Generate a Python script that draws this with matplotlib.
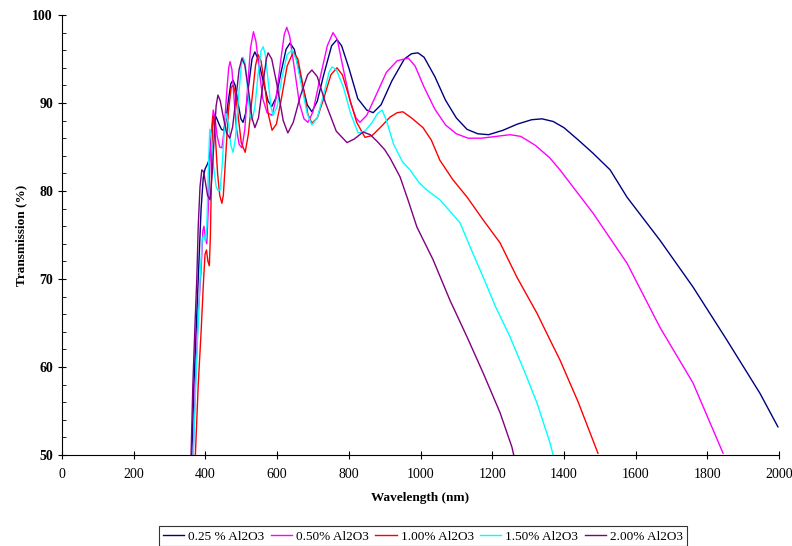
import matplotlib
matplotlib.use("Agg")
import matplotlib.pyplot as plt
from matplotlib.ticker import MultipleLocator

plt.rcParams["font.family"] = ["Liberation Serif", "DejaVu Serif"]

labels = ["0.25 % Al2O3", "0.50% Al2O3", "1.00% Al2O3", "1.50% Al2O3", "2.00% Al2O3"]
colors = ["#000080", "#FF00FF", "#FF0000", "#00FFFF", "#800080"]

# 0.25 % Al2O3
wl_025 = [362, 368, 378, 388, 394, 399, 405, 410, 416, 421, 425, 430, 438, 445, 450, 456, 464,
          471, 477, 483, 491, 499, 505, 512, 520, 530, 538, 547, 560, 575, 585, 597, 611, 625,
          636, 648, 665, 684, 697, 712, 730, 752, 767, 780, 800, 825, 850, 868, 890, 920, 955,
          975, 993, 1010, 1040, 1070, 1100, 1130, 1160, 1190, 1230, 1270, 1310, 1339, 1370,
          1400, 1440, 1481, 1529, 1576, 1668, 1760, 1854, 1947, 1997]
tr_025 = [50, 58, 68, 78, 81.5, 82.5, 83, 83.5, 86, 88, 88.6, 88.4, 87.6, 87.0, 86.9, 87.6, 90.3,
          92.2, 92.6, 92.0, 90.0, 88.2, 87.8, 88.8, 91.8, 95.0, 95.8, 95.0, 92.7, 90.2, 89.6, 90.6, 93.5, 96.1,
          96.8, 96.1, 93.0, 89.8, 89.0, 90.2, 93.2, 96.5, 97.2, 96.5, 94.0, 90.5, 89.2, 88.9, 89.8, 92.5, 95.0,
          95.6, 95.7, 95.2, 93.0, 90.3, 88.3, 87.0, 86.5, 86.4, 86.9, 87.6, 88.1, 88.2, 87.9,
          87.2, 85.8, 84.3, 82.4, 79.3, 74.4, 69.1, 63.1, 57.0, 53.2]

# 0.50% Al2O3
wl_050 = [366, 372, 380, 388, 393, 396, 400, 404, 408, 412, 417, 422, 427, 433, 440, 446, 452,
          460, 465, 469, 474, 480, 486, 494, 502, 510, 518, 526, 534, 541, 550, 560, 572, 586,
          597, 610, 620, 627, 635, 648, 662, 675, 686, 700, 718, 740, 756, 768, 785, 805, 820,
          831, 850, 875, 905, 935, 966, 985, 1010, 1040, 1070, 1100, 1133, 1170, 1210, 1250,
          1280, 1320, 1361, 1389, 1481, 1576, 1668, 1760, 1844]
tr_050 = [50, 58, 66, 71, 75.5, 76, 74.5, 74, 78, 82.5, 87, 89.2, 88.2, 86.2, 85.0, 84.9, 86.8,
          91.5, 94.0, 94.7, 93.8, 90.5, 87.3, 85.3, 84.9, 87.0, 92.0, 96.3, 98.1, 97.0, 93.8, 90.5, 88.9, 88.6,
          90.5, 94.8, 97.8, 98.6, 97.6, 94.0, 90.0, 88.2, 87.8, 89.0, 92.5, 96.5, 98.0, 97.2, 93.8, 90.0, 88.3,
          87.8, 88.6, 90.8, 93.5, 94.8, 95.1, 94.2, 91.8, 89.3, 87.5, 86.5, 86.0, 86.0, 86.2, 86.4,
          86.2, 85.2, 83.75, 82.4, 77.5, 71.8, 64.5, 58.2, 50.2]

# 1.00% Al2O3
wl_100 = [372, 380, 388, 395, 399, 403, 407, 411, 414, 418, 421, 424, 428, 434, 440, 446, 450,
          456, 464, 472, 478, 484, 492, 500, 511, 520, 530, 540, 547, 555, 565, 575, 586, 598,
          612, 628, 645, 658, 672, 686, 697, 712, 730, 750, 767, 782, 800, 822, 845, 865, 890,
          915, 935, 951, 975, 1007, 1030, 1054, 1090, 1130, 1175, 1222, 1269, 1325, 1361, 1389,
          1440, 1495]
tr_100 = [50, 58, 64, 70, 72.8, 73.3, 72, 71.5, 75, 84, 88.5, 88.3, 86, 82, 79.5, 78.6, 79.5,
          83.5, 89, 91.8, 92.0, 91.0, 88.3, 85.5, 84.4, 86.5, 90.5, 94.3, 95.5, 94.8, 92.2, 88.8, 86.9, 87.6,
          90.5, 94.2, 95.8, 95.0, 92.0, 88.7, 87.7, 88.3, 90.5, 93.2, 94.0, 93.2, 90.8, 87.8, 86.1, 86.3, 87.3,
          88.4, 88.9, 89.0, 88.3, 87.2, 85.8, 83.5, 81.3, 79.3, 76.7, 74.1, 70.2, 66.1, 63.1, 60.8,
          56.0, 50.2]

# 1.50% Al2O3
wl_150 = [366, 375, 385, 391, 396, 400, 404, 408, 412, 416, 422, 430, 436, 441, 447, 453, 458,
          465, 471, 477, 484, 492, 500, 505, 511, 518, 524, 530, 538, 547, 555, 561, 567, 575,
          583, 589, 600, 613, 628, 641, 653, 668, 684, 697, 712, 730, 745, 753, 765, 785, 805,
          826, 845, 865, 880, 893, 905, 925, 950, 971, 995, 1018, 1054, 1080, 1110, 1140, 1175,
          1210, 1250, 1290, 1325, 1361, 1370]
tr_150 = [50, 60, 70, 74.5, 75, 74.3, 76, 82, 87, 86.5, 83, 80.5, 80.0, 80.1, 83, 87.2, 88.8,
          87.5, 85.2, 84.4, 86.0, 90.5, 94.2, 95.2, 94.5, 91.5, 88.8, 88.0, 89.5, 93.3, 95.9, 96.4, 95.5, 92.5,
          89.5, 88.6, 89.6, 92.8, 95.5, 96.0, 95.0, 92.0, 88.8, 87.5, 88.3, 91.0, 93.5, 94.1, 93.8, 91.8, 88.8,
          86.6, 86.8, 87.8, 88.8, 89.2, 88.0, 85.3, 83.3, 82.4, 81.0, 80.1, 79.0, 77.8, 76.4, 73.5, 70.2,
          66.8, 63.4, 59.5, 55.9, 51.4, 50]

# 2.00% Al2O3
wl_200 = [360, 365, 371, 376, 380, 385, 390, 395, 400, 406, 413, 419, 425, 430, 435, 441, 450,
          459, 468, 476, 485, 494, 502, 510, 520, 530, 538, 548, 560, 570, 575, 585, 600, 617,
          630, 645, 665, 685, 697, 712, 735, 765, 795, 815, 840, 860, 880, 900, 915, 943, 965,
          990, 1035, 1082, 1130, 1175, 1222, 1255, 1260]
tr_200 = [50, 58, 64.8, 70, 76, 80.5, 82.4, 82.2, 81, 79.5, 79, 82, 86.5, 89.7, 90.9, 90.3, 88.4,
          86.6, 86.0, 87.3, 90.5, 93.8, 95.1, 94.3, 91.5, 88.3, 87.2, 88.3, 92.0, 95.0, 95.7, 95.0, 92.0, 88.0,
          86.6, 87.8, 90.8, 93.2, 93.75, 93.0, 90.0, 86.8, 85.5, 85.9, 86.7, 86.4, 85.6, 84.7, 83.75, 81.6, 79.0,
          75.9, 72.2, 67.6, 63.4, 59.3, 54.8, 50.9, 50]

series = [(wl_025, tr_025), (wl_050, tr_050), (wl_100, tr_100), (wl_150, tr_150), (wl_200, tr_200)]

fig = plt.figure(figsize=(7.92, 5.46), dpi=100)
ax = fig.add_axes([62 / 792, 91 / 546, 717 / 792, 440 / 546])

for (x, y), c, lab in zip(series, colors, labels):
    ax.plot(x, y, color=c, linewidth=1.0, label=lab)

ax.set_xlim(0, 2000)
ax.set_ylim(50, 100)
ax.xaxis.set_major_locator(MultipleLocator(200))
ax.yaxis.set_major_locator(MultipleLocator(10))
ax.yaxis.set_minor_locator(MultipleLocator(2))

ax.spines["top"].set_visible(False)
ax.spines["right"].set_visible(False)
ax.tick_params(axis="x", which="major", direction="inout", length=6, labelsize=10, pad=6)
ax.tick_params(axis="y", which="major", direction="inout", length=6, labelsize=10)
ax.tick_params(axis="y", which="minor", direction="in", length=3)
for t in ax.get_yticklabels():
    t.set_fontweight("bold")

ax.set_xlabel("Wavelength (nm)", fontsize=9.5, fontweight="bold", labelpad=8)
ax.set_ylabel("Transmission (%)", fontsize=9.5, fontweight="bold", labelpad=4)

leg = fig.legend(loc="upper center", bbox_to_anchor=(0.534, 0.036), ncol=5, fontsize=9.5,
                 frameon=True, fancybox=False, edgecolor="black", handlelength=1.6,
                 handletextpad=0.3, columnspacing=0.5, borderpad=0.3, borderaxespad=0)
leg.get_frame().set_linewidth(0.8)

fig.savefig("out.png", dpi=100)
